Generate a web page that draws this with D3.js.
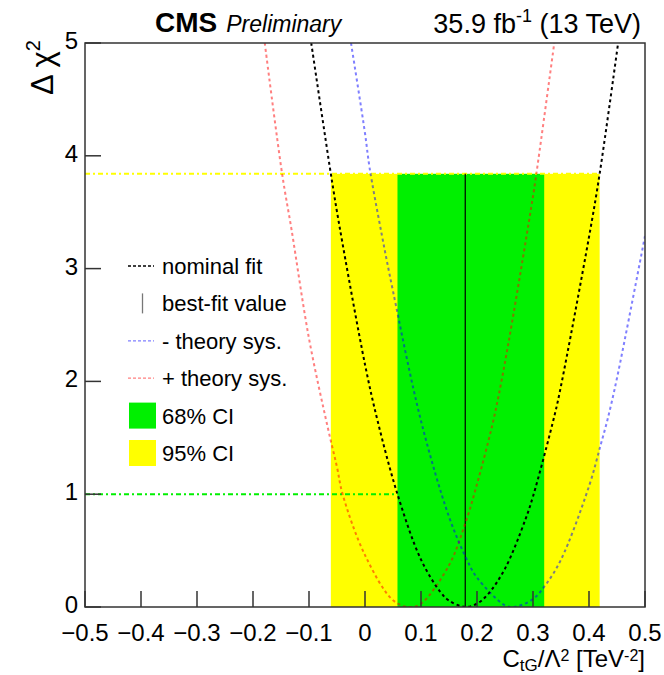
<!DOCTYPE html>
<html>
<head>
<meta charset="utf-8">
<script src="https://cdn.jsdelivr.net/npm/d3@7"></script>
<style>
    body { margin: 0; background: #fff; }
    text { font-family: 'Liberation Sans', Arial, sans-serif; fill: #000; }
</style>
</head>
<body>
<div id="chart-container"></div>
<script>
// values: [C_tG / Lambda^2, delta chi^2]
const nominalFit = [
    [-0.096, 5.0], [-0.061, 3.84], [-0.045, 3.36], [0.0, 2.15], [0.022, 1.66], [0.058, 1.0],
    [0.1, 0.42], [0.135, 0.13], [0.15, 0.057], [0.179, 0.0], [0.2, 0.03], [0.219, 0.11],
    [0.25, 0.34], [0.286, 0.77], [0.3, 0.98], [0.339, 1.71], [0.35, 1.96], [0.4, 3.28],
    [0.419, 3.84], [0.452, 5.0],
];
const theoryUp = [
    [-0.179, 5.0], [-0.148, 3.84], [-0.131, 3.34], [-0.1, 2.38], [-0.066, 1.58], [-0.05, 1.24],
    [-0.04, 1.0], [0.0, 0.46], [0.05, 0.06], [0.079, 0.0], [0.1, 0.03], [0.15, 0.37],
    [0.179, 0.74], [0.2, 1.09], [0.229, 1.65], [0.25, 2.17], [0.299, 3.61], [0.306, 3.84],
    [0.338, 5.0],
];
const theoryDown = [
    [-0.025, 5.0], [0.0, 4.2], [0.008, 3.9], [0.03, 3.3], [0.05, 2.8], [0.1, 1.65],
    [0.15, 0.8], [0.18, 0.44], [0.2, 0.26], [0.25, 0.015], [0.266, 0.0], [0.3, 0.07],
    [0.323, 0.2], [0.35, 0.42], [0.4, 1.07], [0.421, 1.44], [0.433, 1.66], [0.45, 2.03],
    [0.5, 3.29],
];
const bestFit = 0.179;
const ci68 = [0.058, 0.32];
const ci95 = [-0.061, 0.419];
const ci68Level = 1.0;
const ci95Level = 3.84;
const xTicks = [-0.5, -0.4, -0.3, -0.2, -0.1, 0, 0.1, 0.2, 0.3, 0.4, 0.5];
const yTicks = [0, 1, 2, 3, 4, 5];
const legendItems = [
    { label: 'nominal fit', type: 'line', color: '#000' },
    { label: 'best-fit value', type: 'bar', color: '#777' },
    { label: '- theory sys.', type: 'line', color: 'rgba(0,0,255,0.5)' },
    { label: '+ theory sys.', type: 'line', color: 'rgba(255,0,0,0.5)' },
    { label: '68% CI', type: 'box', color: '#00f000' },
    { label: '95% CI', type: 'box', color: '#ffff00' },
];

const WIDTH = 664;
const HEIGHT = 675;
const LEFT = 85;
const RIGHT = 645;
const TOP = 43;
const BOTTOM = 607;
const TICK_LEN = 16;

const x = d3.scaleLinear().domain([-0.5, 0.5]).range([LEFT, RIGHT]);
const y = d3.scaleLinear().domain([0, 5]).range([BOTTOM, TOP]);

const svg = d3
    .select('#chart-container')
    .append('svg')
    .attr('width', WIDTH)
    .attr('height', HEIGHT);

svg.append('defs')
    .append('clipPath')
    .attr('id', 'plot-clip')
    .append('rect')
    .attr('x', LEFT)
    .attr('y', TOP)
    .attr('width', RIGHT - LEFT)
    .attr('height', BOTTOM - TOP);

// confidence bands
svg.append('rect')
    .attr('x', x(ci95[0]))
    .attr('y', y(ci95Level))
    .attr('width', x(ci95[1]) - x(ci95[0]))
    .attr('height', y(0) - y(ci95Level))
    .attr('fill', '#ffff00');
svg.append('rect')
    .attr('x', x(ci68[0]))
    .attr('y', y(ci95Level))
    .attr('width', x(ci68[1]) - x(ci68[0]))
    .attr('height', y(0) - y(ci95Level))
    .attr('fill', '#00f000');

// threshold lines
svg.append('line')
    .attr('x1', x(-0.5))
    .attr('x2', x(ci95[1]))
    .attr('y1', y(ci95Level))
    .attr('y2', y(ci95Level))
    .attr('stroke', '#ffff00')
    .attr('stroke-width', 2)
    .attr('stroke-dasharray', '5,3,2,3');
svg.append('line')
    .attr('x1', x(-0.5))
    .attr('x2', x(ci68[0]))
    .attr('y1', y(ci68Level))
    .attr('y2', y(ci68Level))
    .attr('stroke', '#00f000')
    .attr('stroke-width', 2)
    .attr('stroke-dasharray', '5,3,2,3');

// best fit
svg.append('line')
    .attr('x1', x(bestFit))
    .attr('x2', x(bestFit))
    .attr('y1', y(0))
    .attr('y2', y(ci95Level))
    .attr('stroke', '#000')
    .attr('stroke-width', 1.2);

const line = d3
    .line()
    .x((d) => x(d[0]))
    .y((d) => y(d[1]))
    .curve(d3.curveCatmullRom.alpha(0.5));

const curveGroup = svg.append('g').attr('clip-path', 'url(#plot-clip)');
curveGroup
    .selectAll('path')
    .data([
        { pts: theoryUp, color: 'rgba(255,0,0,0.5)' },
        { pts: theoryDown, color: 'rgba(0,0,255,0.5)' },
        { pts: nominalFit, color: '#000' },
    ])
    .join('path')
    .attr('d', (d) => line(d.pts))
    .attr('fill', 'none')
    .attr('stroke', (d) => d.color)
    .attr('stroke-width', 2)
    .attr('stroke-dasharray', '3,3');

// frame and ticks
const axisGroup = svg.append('g').attr('stroke', '#333').attr('stroke-width', 1.5);
axisGroup
    .append('rect')
    .attr('x', LEFT)
    .attr('y', TOP)
    .attr('width', RIGHT - LEFT)
    .attr('height', BOTTOM - TOP)
    .attr('fill', 'none');
axisGroup
    .selectAll('line.xtick')
    .data(xTicks)
    .join('line')
    .attr('class', 'xtick')
    .attr('x1', (d) => x(d))
    .attr('x2', (d) => x(d))
    .attr('y1', BOTTOM)
    .attr('y2', BOTTOM - TICK_LEN);
axisGroup
    .selectAll('line.ytick')
    .data(yTicks)
    .join('line')
    .attr('class', 'ytick')
    .attr('x1', LEFT)
    .attr('x2', LEFT + TICK_LEN)
    .attr('y1', (d) => y(d))
    .attr('y2', (d) => y(d));

const fmtX = (d) => (d === 0 ? '0' : d3.format('.1f')(d).replace('-', '\u2212'));
svg.append('g')
    .selectAll('text')
    .data(xTicks)
    .join('text')
    .attr('x', (d) => x(d))
    .attr('y', 641)
    .attr('text-anchor', 'middle')
    .style('font-size', '24px')
    .text(fmtX);
svg.append('g')
    .selectAll('text')
    .data(yTicks)
    .join('text')
    .attr('x', 78)
    .attr('y', (d) => y(d) + 6)
    .attr('text-anchor', 'end')
    .style('font-size', '24px')
    .text((d) => d);

// axis titles
const xTitle = svg
    .append('text')
    .attr('x', 645)
    .attr('y', 667)
    .attr('text-anchor', 'end')
    .style('font-size', '24px');
xTitle.append('tspan').text('C');
xTitle.append('tspan').attr('dy', 4).style('font-size', '17px').text('tG');
xTitle.append('tspan').attr('dy', -4).text('/\u039B');
xTitle.append('tspan').attr('dy', -6).style('font-size', '16px').text('2');
xTitle.append('tspan').attr('dy', 6).text(' [TeV');
xTitle.append('tspan').attr('dy', -6).style('font-size', '16px').text('-2');
xTitle.append('tspan').attr('dy', 6).text(']');

const yTitle = svg
    .append('text')
    .attr('transform', 'translate(53,40) rotate(-90)')
    .attr('text-anchor', 'end')
    .style('font-size', '31px');
yTitle.append('tspan').text('\u0394 \u03C7');
yTitle.append('tspan').attr('dy', -13).style('font-size', '20px').text('2');

// header
const header = svg.append('text').attr('x', 155).attr('y', 32);
header.append('tspan').style('font-size', '28px').style('font-weight', 'bold').text('CMS');
header.append('tspan').attr('dx', 9).style('font-size', '23px').style('font-style', 'italic').text('Preliminary');

const lumi = svg.append('text').attr('x', 641).attr('y', 33).attr('text-anchor', 'end').style('font-size', '27px');
lumi.append('tspan').text('35.9 fb');
lumi.append('tspan').attr('dy', -11).style('font-size', '18px').text('-1');
lumi.append('tspan').attr('dy', 11).text(' (13 TeV)');

// legend
const legendY = d3.scaleLinear().domain([0, legendItems.length - 1]).range([266, 453]);
const legend = svg
    .append('g')
    .selectAll('g')
    .data(legendItems)
    .join('g')
    .attr('transform', (d, i) => `translate(0,${legendY(i)})`);
legend
    .filter((d) => d.type === 'line')
    .append('line')
    .attr('x1', 128)
    .attr('x2', 154)
    .attr('stroke', (d) => d.color)
    .attr('stroke-width', 1.3)
    .attr('stroke-dasharray', '3,2');
legend
    .filter((d) => d.type === 'bar')
    .append('line')
    .attr('x1', 142.5)
    .attr('x2', 142.5)
    .attr('y1', -10)
    .attr('y2', 10)
    .attr('stroke', (d) => d.color)
    .attr('stroke-width', 1.3);
legend
    .filter((d) => d.type === 'box')
    .append('rect')
    .attr('x', 129)
    .attr('y', -13)
    .attr('width', 27)
    .attr('height', 26)
    .attr('fill', (d) => d.color);
legend
    .append('text')
    .attr('x', 162)
    .attr('y', 8)
    .style('font-size', '22px')
    .text((d) => d.label);
</script>
</body>
</html>
